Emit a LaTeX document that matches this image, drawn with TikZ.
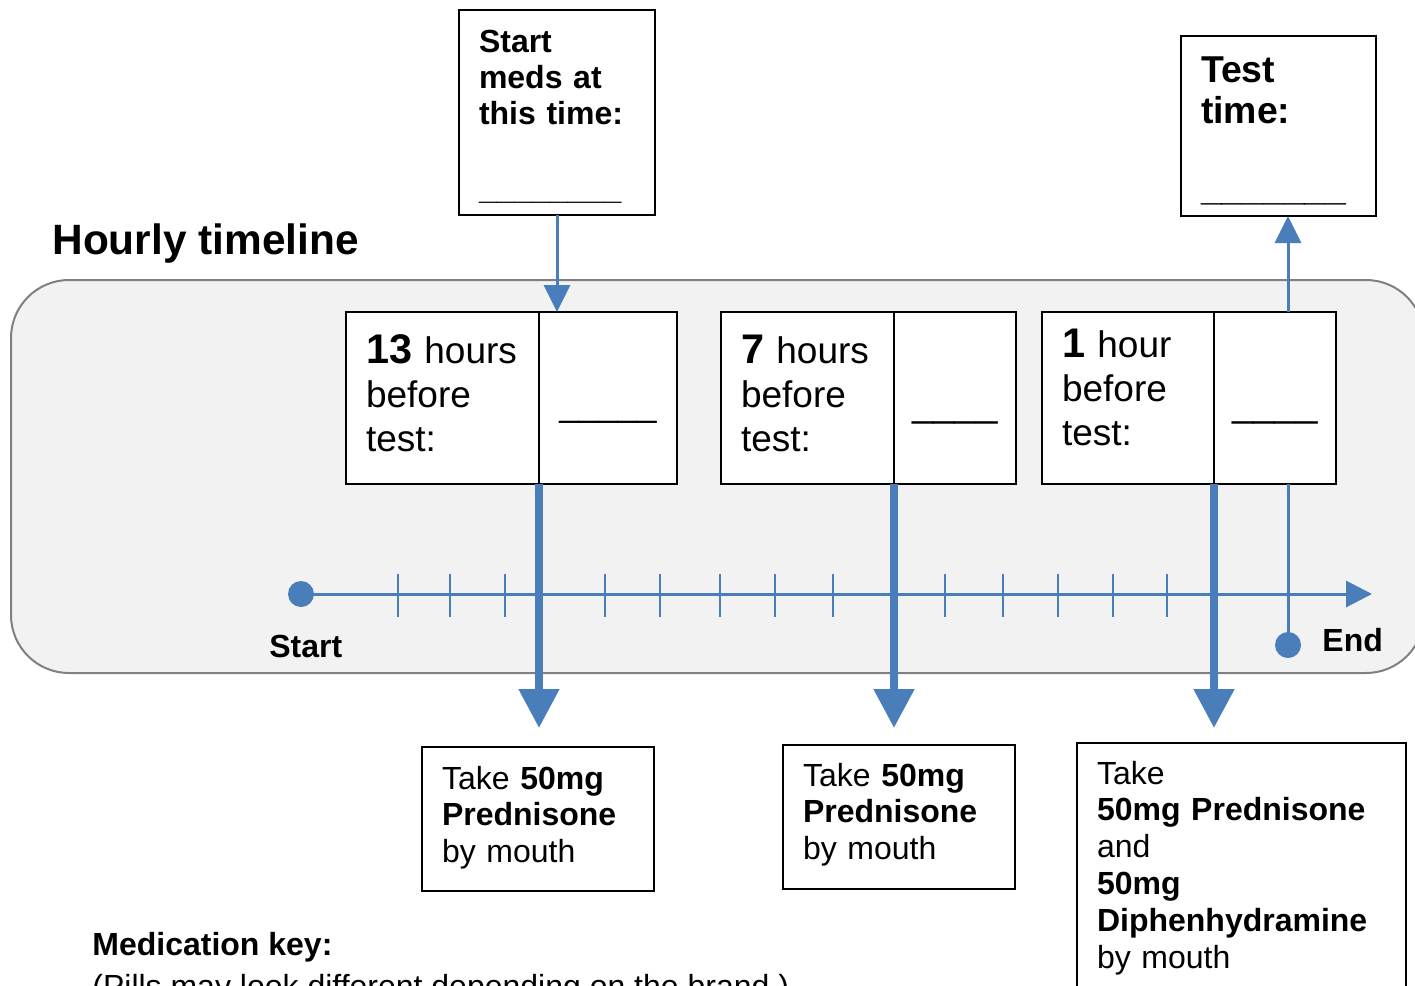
\documentclass[tikz,border=0pt]{standalone}
\usepackage{fontspec}
\setmainfont{Liberation Sans}
\usetikzlibrary{positioning}
\usetikzlibrary{arrows.meta}
\definecolor{lineblue}{HTML}{4A7EBB}
\definecolor{panelgray}{HTML}{F2F2F2}
\definecolor{bordergray}{HTML}{808080}

\begin{document}
\begin{tikzpicture}[x=0.5pt, y=-0.5pt,
                    infobox/.style={draw, line width=1pt, fill=white, anchor=north west, outer sep=0pt,
                                    inner ysep=0pt, inner xsep=10pt, align=left},
                    hourcell/.style={infobox, font=\fontsize{18.5}{22}\selectfont},
                    blankcell/.style={draw, line width=1pt, fill=white, outer sep=0pt, inner sep=0pt,
                                      align=center, text height=52pt, text depth=34pt},
                    takebox/.style={infobox, font=\fontsize{16}{18.4}\selectfont},
                    plainlabel/.style={anchor=base west, inner sep=0pt},
                    dot/.style={circle, fill=lineblue, inner sep=0pt, minimum size=13pt},
                    axis/.style={draw=lineblue, line width=1.5pt},
                    tick/.style={draw=lineblue, line width=1.2pt},
                    smallarrow/.style={axis, -{Triangle[length=13.5pt, width=13pt]}},
                    bigarrow/.style={draw=lineblue, line width=4pt, -{Triangle[length=19.5pt, width=19.5pt]}}
                   ]
\useasboundingbox (0,0) rectangle (1415,986);
\clip (0,0) rectangle (1415,986);
%Panel
\draw[fill=panelgray, draw=bordergray, line width=1pt, rounded corners=29pt] (11,280) rectangle (1424,673);
\node[plainlabel, font=\bfseries\fontsize{21.2}{24}\selectfont] (title) at (52,254) {Hourly timeline};

%Timeline
\node[dot] (startdot) at (301,594) {};
\node[dot] (enddot) at (1288,645) {};
\coordinate (lineend) at (1372,594);
\draw[axis, -{Triangle[length=13pt, width=13pt]}] (startdot.center) -- (lineend);
\foreach \t in {398,450,505,605,660,720,775,833,945,1003,1058,1113,1167}
  \draw[tick] (\t,574) -- (\t,617);
\node[plainlabel, font=\bfseries\fontsize{16}{18}\selectfont] (startlabel) at (269,657) {Start};
\node[plainlabel, font=\bfseries\fontsize{16}{18}\selectfont] (endlabel) at (1322,651) {End};

%Top boxes
\node[infobox, font=\bfseries\fontsize{16}{18}\selectfont, text width=78pt,
      text height=21pt, text depth=81.5pt] (medstart) at (459,10)
      {Start\\meds at\\this time:\\[19.5pt]\_\_\_\_\_\_\_\_};
\node[infobox, font=\bfseries\fontsize{18.7}{20.5}\selectfont, text width=77.5pt,
      text height=23pt, text depth=67pt] (testtime) at (1181,36)
      {Test\\time:\\[18pt]\_\_\_\_\_\_\_};

%Hour boxes
\node[hourcell, text width=76.5pt, text height=25.5pt, text depth=60.5pt] (hourA) at (346,312)
      {{\bfseries\fontsize{20.7}{22}\selectfont 13} hours\\before\\test:};
\node[blankcell, text width=69pt, font=\fontsize{17.5}{20}\selectfont] (blankA) [right=0pt of hourA] {\_\_\_\_\_};
\node[hourcell, text width=66.5pt, text height=25.5pt, text depth=60.5pt] (hourB) at (721,312)
      {{\bfseries\fontsize{20.7}{22}\selectfont 7} hours\\before\\test:};
\node[blankcell, text width=61pt, font=\fontsize{19.3}{20}\selectfont] (blankB) [right=0pt of hourB] {\_\_\_\_};
\node[hourcell, text width=66pt, text height=22.5pt, text depth=63.5pt] (hourC) at (1042,312)
      {{\bfseries\fontsize{20.7}{22}\selectfont 1} hour\\before\\test:};
\node[blankcell, text width=61pt, font=\fontsize{19.3}{20}\selectfont] (blankC) [right=0pt of hourC] {\_\_\_\_};

%Dose boxes
\node[takebox, text width=96pt, text height=21pt, text depth=51pt] (take1) at (422,747)
      {Take \textbf{50mg}\\\textbf{Prednisone}\\by mouth};
\node[takebox, text width=96pt, text height=20.5pt, text depth=51.5pt] (take2) at (783,745)
      {Take \textbf{50mg}\\\textbf{Prednisone}\\by mouth};
\node[takebox, text width=144.5pt, text height=20.5pt, text depth=125pt] (take3) at (1077,743)
      {Take\\\textbf{50mg Prednisone}\\and\\\textbf{50mg}\\\textbf{Diphenhydramine}\\by mouth};

%Key
\node[plainlabel, font=\bfseries\fontsize{16}{18}\selectfont] (medkey) at (92,955) {Medication key:};
\node[plainlabel, font=\fontsize{16}{18}\selectfont] (pillnote) at (92,997)
      {(Pills may look different depending on the brand.)};

% %Lines
\draw[smallarrow] (medstart.south) -- (medstart.south |- blankA.north);
\draw[axis] (enddot.center) -- (enddot |- blankC.south);
\draw[smallarrow] (enddot |- blankC.north) -- (enddot |- testtime.south);

\draw[bigarrow, shorten >=9.5pt] (hourA.south east) -- (hourA.south east |- take1.north);
\draw[bigarrow, shorten >=8.5pt] (hourB.south east) -- (hourB.south east |- take2.north);
\draw[bigarrow, shorten >=7.5pt] (hourC.south east) -- (hourC.south east |- take3.north);
\end{tikzpicture}
\end{document}
